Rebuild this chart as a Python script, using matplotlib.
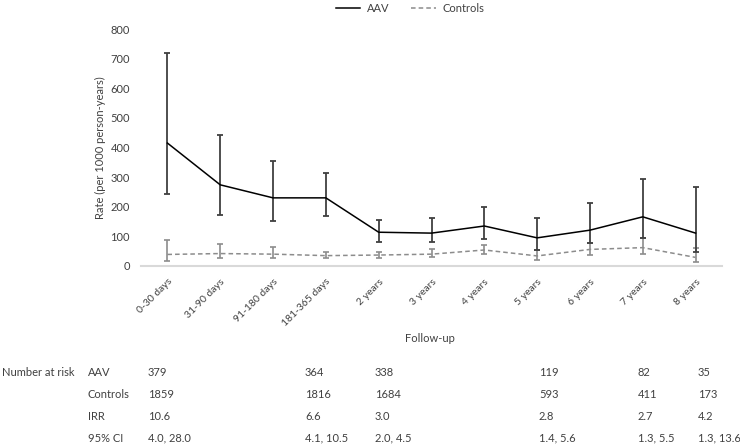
import matplotlib
matplotlib.use('Agg')
import matplotlib.pyplot as plt
import numpy as np

plt.rcParams['font.family'] = ['Lato', 'DejaVu Sans']

categories = ['0-30 days', '31-90 days', '91-180 days', '181-365 days', '2 years',
              '3 years', '4 years', '5 years', '6 years', '7 years', '8 years']

aav_rate = [415, 274, 230, 230, 114, 111, 135, 95, 121, 166, 111]
aav_lo = [243, 171, 151, 170, 82, 80, 91, 54, 79, 95, 46]
aav_hi = [720, 443, 354, 314, 156, 162, 199, 162, 212, 294, 265]

ctrl_rate = [39, 42, 40, 35, 37, 40, 54, 34, 56, 62, 29]
ctrl_lo = [18, 26, 27, 26, 28, 30, 40, 21, 36, 39, 12]
ctrl_hi = [87, 73, 65, 48, 48, 56, 71, 54, 79, 95, 60]

row_labels = ['AAV', 'Controls', 'IRR', '95% CI']
risk_aav = ['379', '364', '338', '119', '82', '35']
risk_ctrl = ['1859', '1816', '1684', '593', '411', '173']
irr = ['10.6', '6.6', '3.0', '2.8', '2.7', '4.2']
ci95 = ['4.0, 28.0', '4.1, 10.5', '2.0, 4.5', '1.4, 5.6', '1.3, 5.5', '1.3, 13.6']
table_cols = [148, 305, 375, 539, 638, 698]  # pixel x of the columns

W, H = 740, 446
fig = plt.figure(figsize=(W / 100, H / 100), dpi=100)
ax = fig.add_axes([141 / W, 1 - 266 / H, 581 / W, 237 / H])

x = np.arange(len(categories))
aav = np.array(aav_rate)
ctrl = np.array(ctrl_rate)

ax.errorbar(x, ctrl, yerr=[ctrl - np.array(ctrl_lo), np.array(ctrl_hi) - ctrl],
            fmt='none', ecolor='#8c8c8c', elinewidth=1.2, capsize=2, capthick=1.2)
ax.plot(x, ctrl, color='#8c8c8c', linestyle=(0, (3, 2)), linewidth=1.1, label='Controls')
ax.errorbar(x, aav, yerr=[aav - np.array(aav_lo), np.array(aav_hi) - aav],
            fmt='none', ecolor='#404040', elinewidth=1.3, capsize=2, capthick=1.3)
ax.plot(x, aav, color='black', linewidth=1.1, label='AAV')

ax.set_xlim(-0.5, len(categories) - 0.5)
ax.set_ylim(0, 800)
ax.set_yticks(range(0, 801, 100))
ax.tick_params(axis='y', length=0, labelsize=8, colors='#404040', pad=8)
ax.set_xticks(x)
ax.set_xticklabels(categories, rotation=45, ha='right', va='top',
                   rotation_mode='anchor', fontsize=7.5, color='#404040')
ax.tick_params(axis='x', length=0, pad=8)
for s in ['top', 'right', 'left']:
    ax.spines[s].set_visible(False)
ax.spines['bottom'].set_color('#d9d9d9')
ax.spines['bottom'].set_linewidth(1.5)
ax.set_ylabel('Rate (per 1000 person-years)', fontsize=8, color='#404040')
ax.yaxis.set_label_coords(-0.06, 0.5)

h, l = ax.get_legend_handles_labels()
fig.legend(h[::-1], l[::-1], loc='center', bbox_to_anchor=(410 / W, 1 - 8 / H), ncol=2,
           frameon=False, fontsize=8, handlelength=2.2, columnspacing=2.0,
           handletextpad=0.6, labelcolor='#404040')

fig.text(430 / W, 1 - 339 / H, 'Follow-up', ha='center', va='center',
         fontsize=8, color='#404040')

# number at risk table
row_y = [372, 394, 416, 438]
rows = [risk_aav, risk_ctrl, irr, ci95]
fig.text(2 / W, 1 - row_y[0] / H, 'Number at risk', ha='left', va='center',
         fontsize=8, color='#404040')
for yy, lab, vals in zip(row_y, row_labels, rows):
    fig.text(88 / W, 1 - yy / H, lab, ha='left', va='center', fontsize=8, color='#404040')
    for cx, v in zip(table_cols, vals):
        fig.text(cx / W, 1 - yy / H, v, ha='left', va='center', fontsize=8, color='#404040')

fig.savefig('out.png', dpi=100)
